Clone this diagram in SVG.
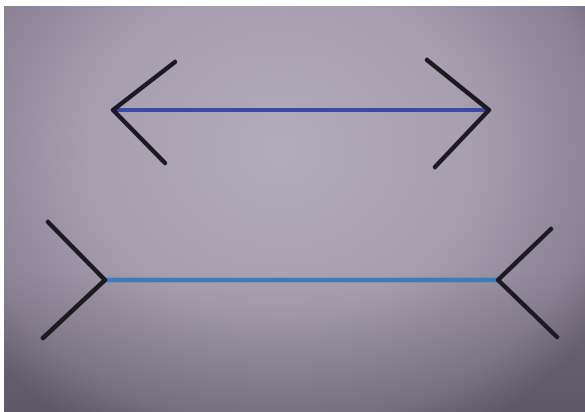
<svg xmlns="http://www.w3.org/2000/svg" width="585" height="412" viewBox="0 0 585 412">
<defs>
<radialGradient id="bg" cx="280" cy="150" r="380" gradientUnits="userSpaceOnUse" gradientTransform="translate(280 150) scale(1 0.85) translate(-280 -150)">
<stop offset="0" stop-color="#b2abba"/>
<stop offset="0.5" stop-color="#a79fb0"/>
<stop offset="0.85" stop-color="#8a8294"/>
<stop offset="1" stop-color="#6f6778"/>
</radialGradient>
<linearGradient id="shade" x1="0" y1="0" x2="0" y2="1">
<stop offset="0" stop-color="#000" stop-opacity="0"/>
<stop offset="0.65" stop-color="#000" stop-opacity="0"/>
<stop offset="1" stop-color="#000" stop-opacity="0.15"/>
</linearGradient>
<style>
.arm{fill:none;stroke:#1b1a20;stroke-width:4.5;stroke-linecap:round;stroke-linejoin:round}
.shaft1{stroke:#3b4aa8;stroke-width:4}
.shaft2{stroke:#3a7db8;stroke-width:4.5}
</style>
</defs>
<rect width="585" height="412" fill="#ffffff"/>
<rect x="4" y="6" width="581" height="406" fill="url(#bg)"/>
<rect x="4" y="6" width="581" height="406" fill="url(#shade)"/>
<g id="top-figure">
<line class="shaft1" x1="113" y1="110" x2="489" y2="110"/>
<polyline class="arm" points="175,62 113,110 165,163"/>
<polyline class="arm" points="427,60 489,110 435,167"/>
</g>
<g id="bottom-figure">
<line class="shaft2" x1="105" y1="280" x2="498" y2="280"/>
<polyline class="arm" points="48,222 105,280 43,338"/>
<polyline class="arm" points="551,229 498,280 557,337"/>
</g>
</svg>
